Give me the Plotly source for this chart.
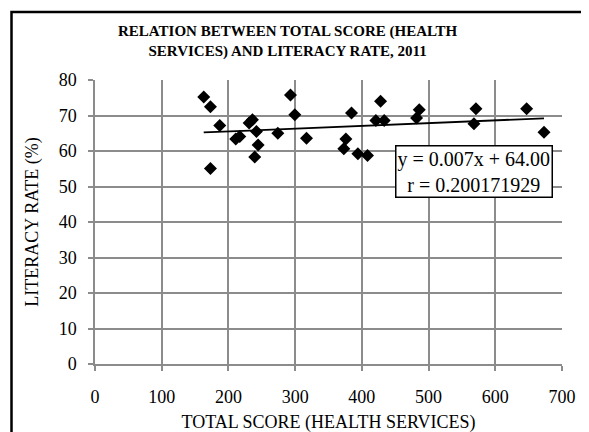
import plotly.graph_objects as go

# Data
total_score = [163, 173, 187, 173, 211, 217, 231, 236, 242, 244.5, 239.5, 274,
               293, 299.5, 317, 384.5, 376, 373, 394, 408.5, 428, 421, 433.5,
               486, 482, 571, 568, 647, 673]
literacy_rate = [75.2, 72.5, 67.2, 55.1, 63.4, 64.1, 67.9, 68.8, 65.5, 61.7, 58.3, 65.0,
                 75.8, 70.2, 63.6, 70.7, 63.4, 60.6, 59.2, 58.7, 74.0, 68.6, 68.6,
                 71.6, 69.3, 71.9, 67.7, 71.9, 65.3]

trend_slope = 0.0078
trend_intercept = 63.95
equation_text = "y = 0.007x + 64.00"
r_text = "r = 0.200171929"

x_ticks = [0, 100, 200, 300, 400, 500, 600, 700]
y_ticks = [0, 10, 20, 30, 40, 50, 60, 70, 80]

title_text = "RELATION BETWEEN TOTAL SCORE (HEALTH<br>SERVICES) AND LITERACY RATE, 2011"
x_title = "TOTAL SCORE (HEALTH SERVICES)"
y_title = "LITERACY RATE (%)"

FONT = "Liberation Serif, Times New Roman, serif"
GRID = "#8c8c8c"

x_min, x_max = min(total_score), max(total_score)
trend_x = [x_min, x_max]
trend_y = [trend_intercept + trend_slope * v for v in trend_x]

fig = go.Figure()
fig.add_trace(go.Scatter(
    x=total_score, y=literacy_rate, mode="markers",
    marker=dict(symbol="diamond", size=10, color="black"),
    showlegend=False, cliponaxis=False,
))
fig.add_trace(go.Scatter(
    x=trend_x, y=trend_y, mode="lines",
    line=dict(color="black", width=1.8), showlegend=False,
))

# the page body adds an 8px offset; positions below are screen pixels
OFF = 8
W, H = 589, 432
SCR_L, SCR_R, SCR_T, SCR_B = 95, 562, 80, 364
L = SCR_L - OFF
T = SCR_T - OFF
R = W - (SCR_R - OFF)
B = H - (SCR_B - OFF)
pw, ph = W - L - R, H - T - B

def px_x(p):
    return (p - OFF - L) / pw

def px_y(p):
    return (H - B - (p - OFF)) / ph

fig.update_layout(
    width=W, height=H,
    margin=dict(l=L, r=R, t=T, b=B, pad=0, autoexpand=False),
    paper_bgcolor="white", plot_bgcolor="white",
    font=dict(family=FONT, size=18, color="black"),
    xaxis=dict(
        range=[0, 700], tickvals=x_ticks, ticktext=[str(v) for v in x_ticks],
        showgrid=True, gridcolor=GRID, gridwidth=1.5,
        showline=True, linecolor=GRID, linewidth=1.5,
        ticks="outside", ticklen=5, tickcolor=GRID, tickwidth=1.5,
        ticklabelstandoff=11, automargin=False,
        zeroline=False, mirror=False,
        title=dict(text=x_title, font=dict(family=FONT, size=18), standoff=9),
    ),
    yaxis=dict(
        range=[0, 80], tickvals=y_ticks, ticktext=[str(v) for v in y_ticks],
        showgrid=True, gridcolor=GRID, gridwidth=1.5,
        showline=True, linecolor=GRID, linewidth=1.5,
        ticks="outside", ticklen=5, tickcolor=GRID, tickwidth=1.5,
        ticklabelstandoff=8, automargin=False,
        zeroline=False,
        title=dict(text=y_title, font=dict(family=FONT, size=18), standoff=15),
    ),
    annotations=[
        dict(
            text="<b>" + title_text + "</b>",
            xref="paper", yref="paper",
            x=px_x(288), y=px_y(42), xanchor="center", yanchor="middle",
            showarrow=False, align="center",
            font=dict(family=FONT, size=15, color="black"),
        ),
        dict(
            text=equation_text + "<br>" + r_text,
            xref="paper", yref="paper",
            x=px_x(474), y=px_y(171), xanchor="center", yanchor="middle",
            showarrow=False, align="center",
            font=dict(family=FONT, size=20, color="black"),
            bgcolor="white", bordercolor="black", borderwidth=1.5, borderpad=1,
        ),
    ],
    shapes=[dict(
        type="rect", xref="paper", yref="paper",
        x0=px_x(11.5), x1=px_x(620), y0=px_y(460), y1=px_y(12),
        line=dict(color="black", width=2.5), fillcolor="rgba(0,0,0,0)",
        layer="above",
    )],
)

fig.write_html("out.html")
